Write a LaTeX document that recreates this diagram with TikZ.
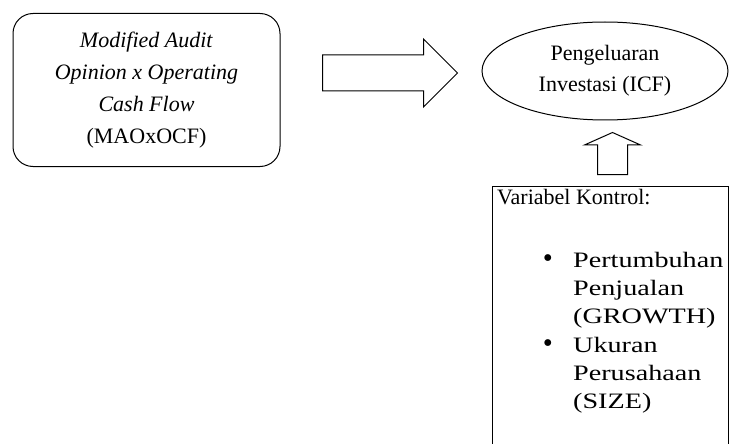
\documentclass[tikz,border=0pt]{standalone}
\usepackage{fontspec}
\setmainfont{Liberation Serif}
\newfontfamily\lebar[FakeStretch=1.28]{Liberation Serif}
\usetikzlibrary{shapes.geometric, shapes.arrows, positioning}

\begin{document}
\begin{tikzpicture}[x=1pt,y=-1pt,
        kotak/.style={draw, line width=1pt, fill=white, inner sep=0pt},
        panah/.style={single arrow, draw, line width=1pt, fill=white, inner xsep=0pt},
        teks/.style={inner sep=0pt, font=\fontsize{22}{31}\selectfont},
        daftar/.style={teks, anchor=base west, align=left, font=\lebar\fontsize{22}{28}\selectfont}]
        \useasboundingbox[fill=white] (0,0) rectangle (729,444);

        % Kotak variabel independen
        \node[kotak, teks, rounded corners=20pt, minimum width=267pt, minimum height=153pt,
              align=center, font=\fontsize{22}{32}\selectfont] (maoocf) at (146.5,90)
            {\textit{Modified Audit}\\\textit{Opinion x Operating}\\\textit{Cash Flow}\\(MAOxOCF)};

        % Elips variabel dependen
        \node[kotak, teks, ellipse, minimum width=246pt, minimum height=98pt, align=center] (icf) at (605,71)
            {Pengeluaran\\Investasi (ICF)};

        % Panah besar
        \node[panah, anchor=tail, inner ysep=17.5pt, minimum height=135pt, single arrow head extend=16pt] (pnh1) at (322,73) {};

        % Kotak variabel kontrol
        \node[kotak, anchor=north west, minimum width=236pt, minimum height=275pt] (kontrol) at (492,186) {};
        \node[teks, anchor=base west] (judul) at (497,204) {Variabel Kontrol:};
        \node[daftar] (growth) at (573,323) {Pertumbuhan\\Penjualan\\(GROWTH)};
        \node[daftar] (size) at (573,408) {Ukuran\\Perusahaan\\(SIZE)};
        \node[teks, anchor=base, scale=1.3] (b1) at (548,267) {\textbullet};
        \node[teks, anchor=base, scale=1.3] (b2) at (548,352) {\textbullet};

        % Panah kecil ke atas
        \node[panah, rotate=90, anchor=tail, inner ysep=14.5pt, minimum height=42pt,
              single arrow head extend=13pt, single arrow tip angle=132] (pnh2) at (612.5,175) {};

    \end{tikzpicture}
\end{document}
